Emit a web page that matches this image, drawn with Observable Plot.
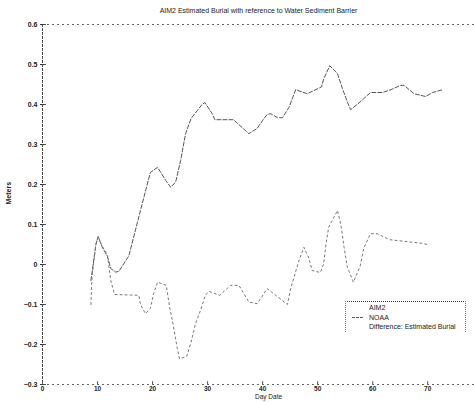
<!DOCTYPE html>
<html>
<head>
<meta charset="utf-8">
<script src="https://cdn.jsdelivr.net/npm/d3@7"></script>
<script src="https://cdn.jsdelivr.net/npm/@observablehq/plot@0.6"></script>
<style>
  html, body { margin: 0; padding: 0; background: #fff; }
  #wrap { position: relative; width: 474px; height: 402px; font-family: "Liberation Sans", Arial, sans-serif; }
  #legend { position: absolute; left: 345px; top: 301px; width: 121px; height: 31px;
    border-top: 1px dotted #333; border-left: 1px dotted #777; border-right: 1px dotted #777;
    font-size: 7px; color: #222; box-sizing: border-box; }
  .row { position: absolute; left: 0; height: 9px; line-height: 9px; white-space: nowrap; }
  .row span.sample { position: absolute; left: 6px; top: 4px; width: 11px; border-top: 1px dashed #555; }
  .row span.lab { position: absolute; left: 23px; top: 0; }
</style>
</head>
<body>
<div id="wrap"></div>
<script>
const title = "AIM2 Estimated Burial with reference to Water Sediment Barrier";
const xLabel = "Day Date";
const yLabel = "Meters";
const seriesNames = ["AIM2", "NOAA", "Difference: Estimated Burial"];
const xTicks = [0, 10, 20, 30, 40, 50, 60, 70];
const yTicks = [-0.3, -0.2, -0.1, 0, 0.1, 0.2, 0.3, 0.4, 0.5, 0.6];

const aim2Day = [8.8, 9.7, 10.1, 10.8, 11.8, 12.4, 13.3, 13.9, 15.7, 17.8, 19.6, 20.9, 22.4, 23.3, 24.2, 25.1, 26, 27, 29, 29.5, 30.8, 31.3, 34.7, 37.5, 39, 40, 40.8, 41.5, 42.7, 43.6, 44.8, 46, 48.1, 50.7, 51.1, 52.2, 53.6, 54.5, 55.4, 56, 57.7, 59.6, 61.8, 63.3, 65.1, 65.7, 67.5, 69.6, 70.9, 72.7];
const aim2Val = [-0.04, 0.05, 0.07, 0.045, 0.02, -0.01, -0.019, -0.017, 0.022, 0.135, 0.23, 0.243, 0.21, 0.193, 0.206, 0.26, 0.327, 0.365, 0.40, 0.405, 0.378, 0.362, 0.362, 0.327, 0.34, 0.36, 0.375, 0.377, 0.367, 0.367, 0.393, 0.437, 0.427, 0.444, 0.464, 0.497, 0.477, 0.44, 0.406, 0.387, 0.406, 0.43, 0.43, 0.437, 0.448, 0.448, 0.427, 0.42, 0.43, 0.437];

const noaaDay = [8.8, 9.0, 9.7, 10.1, 10.8, 11.8, 12.4, 13.1, 17.5, 17.8, 18.7, 19.6, 20.2, 20.9, 22.5, 23.1, 23.6, 24.5, 24.9, 26.2, 27, 27.8, 28.7, 29.6, 30.2, 32.2, 34.2, 35.7, 37.5, 39, 39.9, 40.8, 44.5, 45.1, 46.6, 47.5, 48.4, 49, 50.5, 51.1, 51.5, 52, 53.6, 54.2, 54.8, 55.4, 56.5, 57.7, 58.4, 59.6, 60.8, 63.1, 69, 69.9];
const noaaVal = [-0.1, -0.03, 0.05, 0.07, 0.047, 0.023, -0.04, -0.075, -0.077, -0.1, -0.123, -0.11, -0.073, -0.044, -0.052, -0.107, -0.14, -0.21, -0.236, -0.23, -0.194, -0.148, -0.115, -0.077, -0.067, -0.077, -0.052, -0.052, -0.094, -0.098, -0.08, -0.06, -0.1, -0.06, 0.01, 0.043, 0.016, -0.015, -0.02, 0.002, 0.05, 0.093, 0.135, 0.1, 0.043, -0.007, -0.044, -0.005, 0.042, 0.077, 0.077, 0.062, 0.053, 0.05];

const aim2 = aim2Day.map((d, i) => ({day: d, v: aim2Val[i]}));
const noaa = noaaDay.map((d, i) => ({day: d, v: noaaVal[i]}));

const fmtY = d => (d === 0 ? "0" : d3.format(".1f")(d));

const chart = Plot.plot({
  width: 474,
  height: 402,
  marginLeft: 42,
  marginRight: 0,
  marginTop: 24,
  marginBottom: 18,
  style: {fontFamily: "'Liberation Sans', Arial, sans-serif", fontSize: "7px", color: "#222", background: "#fff"},
  x: {domain: [0, 78.5]},
  y: {domain: [-0.3, 0.6]},
  marks: [
    Plot.ruleY([0.6], {stroke: "#666", strokeDasharray: "2,3", strokeWidth: 1}),
    Plot.ruleY([-0.3], {stroke: "#666", strokeDasharray: "2,3", strokeWidth: 1}),
    Plot.ruleX([0], {stroke: "#444", strokeWidth: 1, strokeDasharray: "3,1"}),
    Plot.axisY({ticks: yTicks, tickFormat: fmtY, tickSize: 2, tickPadding: 3, label: null, fontWeight: "bold", stroke: "#333"}),
    Plot.ruleY(yTicks, {x1: 0, x2: 0.7, stroke: "#444"}),
    Plot.axisX({ticks: xTicks, tickFormat: d3.format("d"), tickSize: 0, tickPadding: 2, label: null, fontWeight: "bold", fontSize: 6.5}),
    Plot.ruleX(xTicks, {y1: -0.3, y2: -0.293, stroke: "#555"}),
    Plot.line(aim2, {x: "day", y: "v", stroke: "#555", strokeWidth: 1, strokeDasharray: "4,2"}),
    Plot.line(noaa, {x: "day", y: "v", stroke: "#777", strokeWidth: 1, strokeDasharray: "2,3"}),
    Plot.text([title], {frameAnchor: "top", dy: -16, fontSize: 7, fill: "#222"}),
    Plot.text([xLabel], {frameAnchor: "bottom", dy: 14, dx: 10, fontSize: 6.5, fill: "#222"}),
    Plot.text([yLabel], {frameAnchor: "left", dx: -34, rotate: -90, fontSize: 7, fill: "#222", fontWeight: "bold"})
  ]
});

const wrap = document.getElementById("wrap");
wrap.appendChild(chart);

const legend = document.createElement("div");
legend.id = "legend";
seriesNames.forEach((name, i) => {
  const row = document.createElement("div");
  row.className = "row";
  row.style.top = (1 + i * 9.5) + "px";
  if (name === "NOAA") {
    const s = document.createElement("span");
    s.className = "sample";
    row.appendChild(s);
  }
  const l = document.createElement("span");
  l.className = "lab";
  l.textContent = name;
  row.appendChild(l);
  legend.appendChild(row);
});
wrap.appendChild(legend);
</script>
</body>
</html>
